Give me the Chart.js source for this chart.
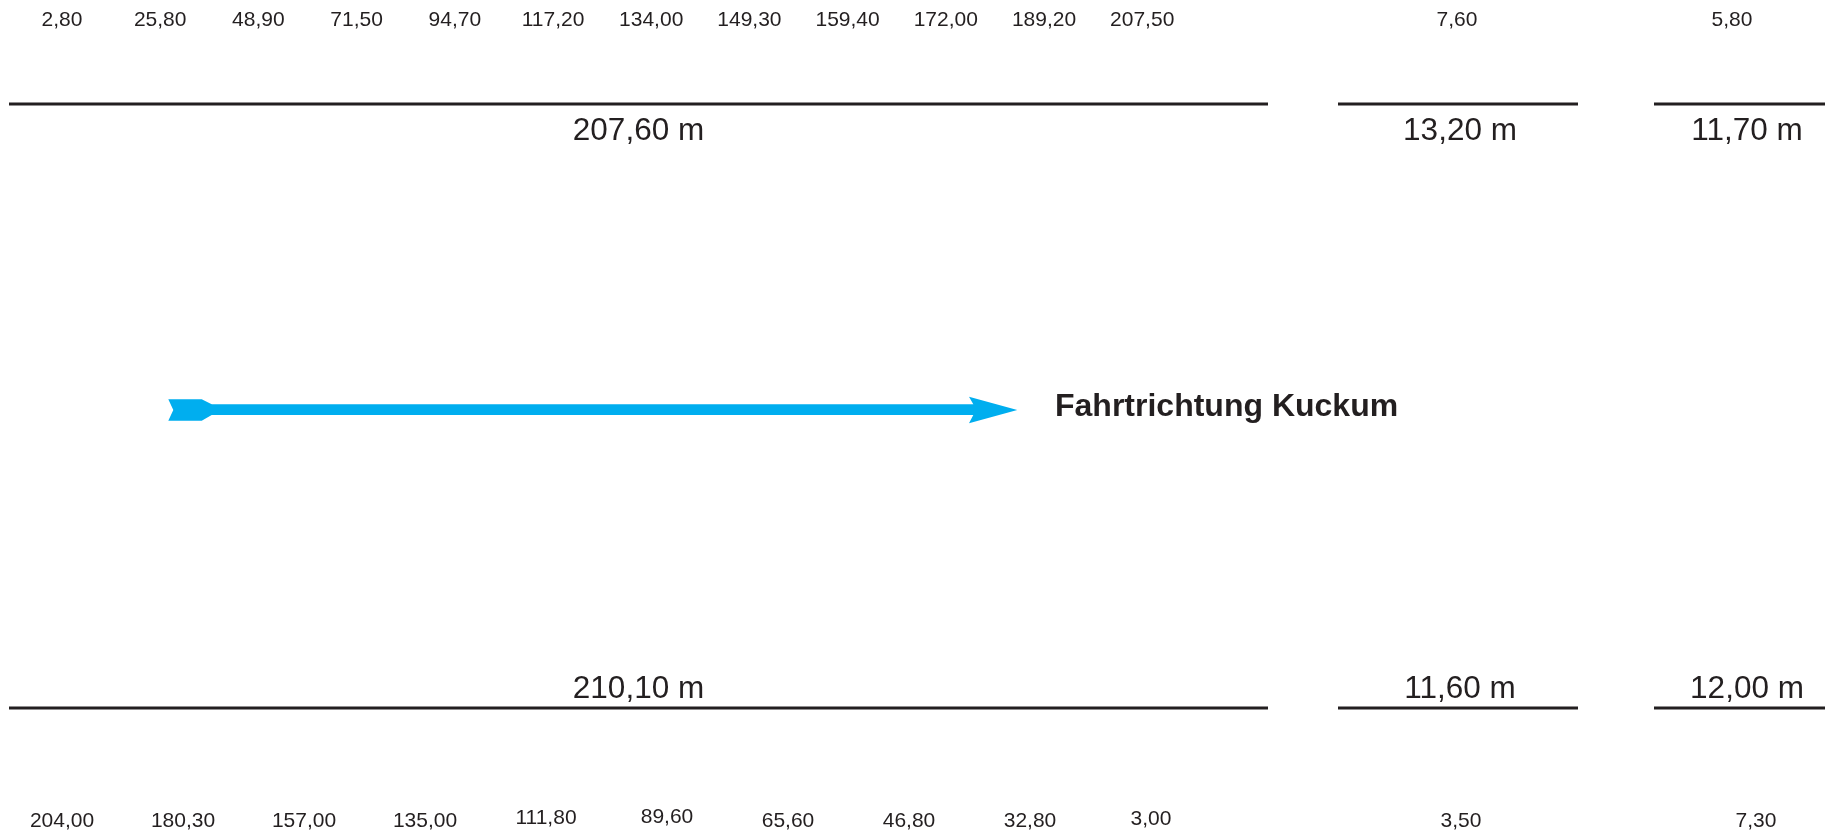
<!DOCTYPE html>
<html lang="de">
<head>
  <meta charset="UTF-8">
  <title>Gleisplan Fahrtrichtung Kuckum</title>
  <script src="https://cdn.jsdelivr.net/npm/chart.js"></script>
  <style>
    html, body { margin: 0; padding: 0; background: #fff; }
    #wrap { width: 1825px; height: 835px; position: relative; }
  </style>
</head>
<body>
  <div id="wrap"><canvas id="plan"></canvas></div>

  <script>
    const topSectionLengths = [207.60, 13.20, 11.70];
    const bottomSectionLengths = [210.10, 11.60, 12.00];

    const topMarksMain = [2.80, 25.80, 48.90, 71.50, 94.70, 117.20, 134.00, 149.30, 159.40, 172.00, 189.20, 207.50];
    const topMarksMid = [7.60];
    const topMarksEnd = [5.80];

    const bottomMarksMain = [204.00, 180.30, 157.00, 135.00, 111.80, 89.60, 65.60, 46.80, 32.80, 3.00];
    const bottomMarksMid = [3.50];
    const bottomMarksEnd = [7.30];

    const directionLabel = 'Fahrtrichtung Kuckum';

    // --- layout, in board units (board = 1825 x 835) ---
    const sectionSpans = [[9, 1268], [1338, 1578], [1654, 1825]];
    const rowY = { topMarks: 26, topTrack: 104, topLength: 140, arrow: 409.7,
                   bottomLength: 698.3, bottomTrack: 708, bottomMarks: 827 };
    const topMarkX = { start: 62, step: 98.2, mid: 1457, end: 1732 };
    const bottomMarkX = { start: 62, step: 121, mid: 1461, end: 1756 };
    const bottomMarkLift = [0, 0, 0, 0, 3, 4, 0, 0, 0, 2];
    const lengthLabelX = [638.5, 1460, 1747];
    const shaft = { from: 205, to: 975, width: 10.7 };
    const arrowTail = [[168.3, 399.3], [201.7, 399.3], [211.7, 404.3], [211.7, 415], [201.7, 420.7], [168.3, 420.7], [173.3, 410]];
    const arrowHead = [[969, 396.7], [1017.3, 410], [969, 423.3], [973.3, 415], [973.3, 404.3]];
    const titlePos = { x: 1055, y: 415.7 };

    const ink = '#231f20';
    const blue = '#00aeef';
    const fmt = v => v.toFixed(2).replace('.', ',');

    function markPoints(main, mid, end, pos, y, lift) {
      const pts = main.map((v, i) => ({ x: pos.start + pos.step * i, y: y - (lift ? lift[i] : 0), text: fmt(v) }));
      mid.forEach(v => pts.push({ x: pos.mid, y: y, text: fmt(v) }));
      end.forEach(v => pts.push({ x: pos.end, y: y, text: fmt(v) }));
      return pts;
    }

    function trackLines(y) {
      return sectionSpans.map(s => ({
        data: [{ x: s[0], y: y }, { x: s[1], y: y }],
        showLine: true, borderColor: ink, borderWidth: 3, pointRadius: 0
      }));
    }

    function textSet(points, font, align) {
      return { data: points, pointRadius: 0, showLine: false, textFont: font, textAlign: align || 'center' };
    }

    function polySet(points) {
      return { data: points.map(p => ({ x: p[0], y: p[1] })), pointRadius: 0, showLine: false, polygonFill: blue };
    }

    const datasets = [
      ...trackLines(rowY.topTrack),
      ...trackLines(rowY.bottomTrack),
      {
        data: [{ x: shaft.from, y: rowY.arrow }, { x: shaft.to, y: rowY.arrow }],
        showLine: true, borderColor: blue, borderWidth: shaft.width, pointRadius: 0
      },
      polySet(arrowTail),
      polySet(arrowHead),
      textSet(markPoints(topMarksMain, topMarksMid, topMarksEnd, topMarkX, rowY.topMarks), '21px "Liberation Sans", Arial, sans-serif'),
      textSet(markPoints(bottomMarksMain, bottomMarksMid, bottomMarksEnd, bottomMarkX, rowY.bottomMarks, bottomMarkLift), '21px "Liberation Sans", Arial, sans-serif'),
      textSet(topSectionLengths.map((v, i) => ({ x: lengthLabelX[i], y: rowY.topLength, text: fmt(v) + ' m' })), '31.5px "Liberation Sans", Arial, sans-serif'),
      textSet(bottomSectionLengths.map((v, i) => ({ x: lengthLabelX[i], y: rowY.bottomLength, text: fmt(v) + ' m' })), '31.5px "Liberation Sans", Arial, sans-serif'),
      textSet([{ x: titlePos.x, y: titlePos.y, text: directionLabel }], 'bold 32px "Liberation Sans", Arial, sans-serif', 'left')
    ];

    // draws filled polygons and text labels at the scaled point positions
    const planDecor = {
      id: 'planDecor',
      afterDatasetsDraw(chart) {
        const ctx = chart.ctx;
        chart.data.datasets.forEach((ds, i) => {
          const els = chart.getDatasetMeta(i).data;
          if (ds.polygonFill) {
            ctx.save();
            ctx.beginPath();
            els.forEach((el, j) => j ? ctx.lineTo(el.x, el.y) : ctx.moveTo(el.x, el.y));
            ctx.closePath();
            ctx.fillStyle = ds.polygonFill;
            ctx.fill();
            ctx.restore();
          }
          if (ds.textFont) {
            ctx.save();
            ctx.font = ds.textFont;
            ctx.fillStyle = ink;
            ctx.textAlign = ds.textAlign;
            ctx.textBaseline = 'alphabetic';
            els.forEach((el, j) => ctx.fillText(ds.data[j].text, el.x, el.y));
            ctx.restore();
          }
        });
      }
    };

    new Chart(document.getElementById('plan'), {
      type: 'scatter',
      data: { datasets: datasets },
      options: {
        responsive: true,
        maintainAspectRatio: false,
        animation: false,
        events: [],
        layout: { padding: 0 },
        scales: {
          x: { type: 'linear', min: 0, max: 1825, display: false },
          y: { type: 'linear', min: 0, max: 835, reverse: true, display: false }
        },
        plugins: { legend: { display: false }, tooltip: { enabled: false } }
      },
      plugins: [planDecor]
    });
  </script>
</body>
</html>
